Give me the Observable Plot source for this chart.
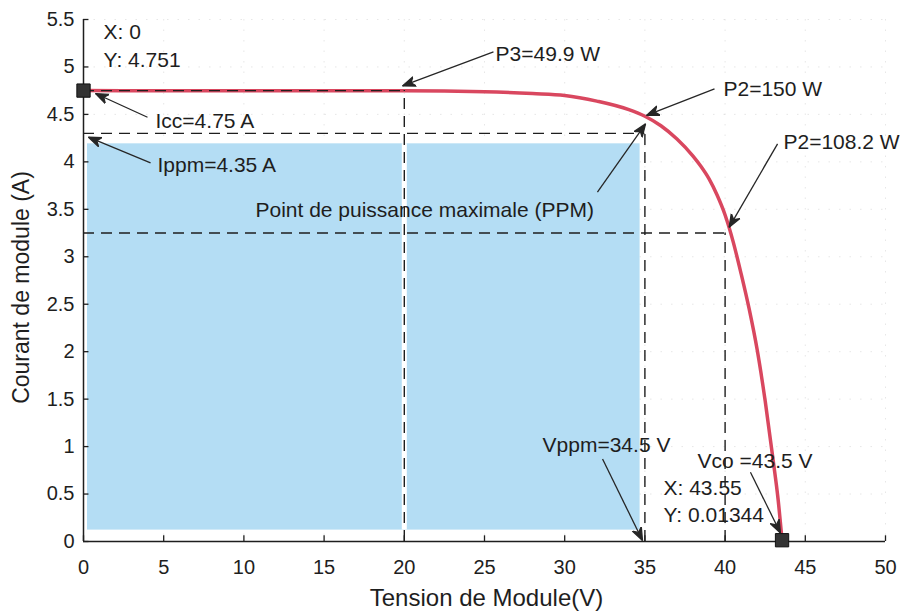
<!DOCTYPE html>
<html>
<head>
<meta charset="utf-8">
<script src="https://cdn.jsdelivr.net/npm/d3@7"></script>
<script src="https://cdn.jsdelivr.net/npm/@observablehq/plot@0.6"></script>
<style>
  html, body { margin: 0; padding: 0; background: #fff; }
</style>
</head>
<body>
<div id="chart"></div>
<script>
// I-V curve of the module
const tension = [0, 5, 10, 15, 20, 25, 28, 30, 32, 34, 35, 36, 37, 38, 38.5, 39, 39.5, 40, 40.5, 41, 41.5, 42, 42.5, 43, 43.3, 43.55];
const courant = [4.751, 4.75, 4.75, 4.75, 4.75, 4.74, 4.72, 4.70, 4.64, 4.55, 4.48, 4.38, 4.24, 4.06, 3.95, 3.82, 3.65, 3.44, 3.16, 2.82, 2.45, 2.02, 1.48, 0.85, 0.45, 0.013];

const xTicks = [0, 5, 10, 15, 20, 25, 30, 35, 40, 45, 50];
const yTicks = [0, 0.5, 1, 1.5, 2, 2.5, 3, 3.5, 4, 4.5, 5, 5.5];

// data tips (markers)
const tipX = [0, 43.55];
const tipY = [4.751, 0.01344];

// guide (dashed) lines
const hLineY = [4.751, 4.3, 3.25];
const hLineX2 = [20, 35, 40.3];
const vLineX = [20, 35, 40];
const vLineY2 = [4.751, 4.3, 3.25];

// maximum power rectangle
const rectV = [0.25, 34.7];
const rectI = [0.12, 4.19];

// annotation labels
const annText = ["X: 0", "Y: 4.751", "Icc=4.75 A", "Ippm=4.35 A", "P3=49.9 W", "P2=150 W", "P2=108.2 W",
  "Point de puissance maximale (PPM)", "Vppm=34.5 V", "Vco =43.5 V", "X: 43.55", "Y: 0.01344"];
const annX = [1.25, 1.25, 4.49, 4.61, 25.69, 39.9, 43.64, 10.72, 28.62, 38.28, 36.16, 36.16];
const annY = [5.37, 5.07, 4.43, 3.96, 5.13, 4.77, 4.21, 3.49, 1.01, 0.85, 0.56, 0.28];

// annotation arrows (tail -> head)
const arrX1 = [3.99, 4.18, 25.56, 39.34, 43.27, 32.04, 32.36, 41.58];
const arrY1 = [4.47, 3.99, 5.16, 4.77, 4.19, 3.68, 0.87, 0.73];
const arrX2 = [0.75, 0.31, 19.89, 35.1, 40.25, 35.04, 34.85, 43.45];
const arrY2 = [4.72, 4.26, 4.80, 4.49, 3.31, 4.40, 0.01, 0.09];

const curve = tension.map((v, i) => ({v, i: courant[i]}));
const tips = tipX.map((x, k) => ({x, y: tipY[k]}));
const hLines = hLineY.map((y, k) => ({y, x1: 0, x2: hLineX2[k]}));
const vLines = vLineX.map((x, k) => ({x, y1: 0, y2: vLineY2[k]}));
const labels = annText.map((t, k) => ({t, x: annX[k], y: annY[k]}));
const arrows = arrX1.map((x1, k) => ({x1, y1: arrY1[k], x2: arrX2[k], y2: arrY2[k]}));

const ink = "#1e1e1e";
const font = "Liberation Sans, Arial, Helvetica, sans-serif";

function arrowHead(color, context) {
  const ns = "http://www.w3.org/2000/svg";
  const doc = (context && context.document) || document;
  const m = doc.createElementNS(ns, "marker");
  m.setAttribute("viewBox", "-13 -6 14 12");
  m.setAttribute("markerWidth", 14);
  m.setAttribute("markerHeight", 12);
  m.setAttribute("markerUnits", "userSpaceOnUse");
  m.setAttribute("orient", "auto");
  m.setAttribute("refX", 0);
  m.setAttribute("refY", 0);
  const p = doc.createElementNS(ns, "path");
  p.setAttribute("d", "M0,0 L-13,-5 L-9,0 L-13,5 Z");
  p.setAttribute("fill", "#262626");
  m.appendChild(p);
  return m;
}

const plot = Plot.plot({
  width: 904,
  height: 613,
  marginLeft: 83,
  marginRight: 19,
  marginTop: 19,
  marginBottom: 72,
  style: {fontFamily: font, color: ink, background: "#fff"},
  x: {domain: [0, 50]},
  y: {domain: [0, 5.5]},
  marks: [
    // faint grid
    Plot.ruleX(xTicks.slice(1), {x: d => d, stroke: "#cfcfcf", strokeOpacity: 0.5, strokeDasharray: "1.5,9"}),
    Plot.ruleY(yTicks.slice(1), {y: d => d, stroke: "#cfcfcf", strokeOpacity: 0.5, strokeDasharray: "1.5,9"}),
    // blue max-power area
    Plot.rect([{}], {x1: rectV[0], x2: rectV[1], y1: rectI[0], y2: rectI[1], fill: "#b4ddf4"}),
    Plot.ruleX([vLineX[0]], {x: d => d, y1: rectI[0], y2: rectI[1], stroke: "#fff", strokeWidth: 5}),
    // I-V curve
    Plot.line(curve, {x: "v", y: "i", stroke: "#d9475f", strokeWidth: 3.5, curve: "monotone-x"}),
    // dashed guides
    Plot.ruleY(hLines, {y: "y", x1: "x1", x2: "x2", stroke: ink, strokeWidth: 1.4, strokeDasharray: "11,7"}),
    Plot.ruleX(vLines, {x: "x", y1: "y1", y2: "y2", stroke: ink, strokeWidth: 1.4, strokeDasharray: "11,7"}),
    // axes lines
    Plot.ruleX([0], {y1: 0, y2: 5.5, stroke: ink, strokeWidth: 1.5}),
    Plot.ruleY([0], {x1: 0, x2: 50, stroke: ink, strokeWidth: 1.5}),
    // inward ticks
    Plot.ruleX(xTicks, {x: d => d, y1: 0, y2: 0.06, stroke: ink, strokeWidth: 1.3}),
    Plot.ruleY(yTicks, {y: d => d, x1: 0, x2: 0.34, stroke: ink, strokeWidth: 1.3}),
    Plot.axisX({ticks: xTicks, tickSize: 0, tickPadding: 18, fontSize: 20, label: null, tickFormat: d => String(d)}),
    Plot.axisY({ticks: yTicks, tickSize: 0, tickPadding: 9, fontSize: 20, label: null, tickFormat: d => String(d)}),
    // axis titles
    Plot.text(["Tension de Module(V)"], {frameAnchor: "bottom", lineAnchor: "middle", textAnchor: "middle", dy: 57, dx: 2, fontSize: 24, fill: ink}),
    Plot.text(["Courant de module (A)"], {frameAnchor: "left", lineAnchor: "middle", textAnchor: "middle", dx: -62, dy: 7, rotate: -90, fontSize: 23, fill: ink}),
    // data tip markers
    Plot.dot(tips, {x: "x", y: "y", symbol: "square", r: 7.5, fill: "#333", stroke: "#111", strokeWidth: 1}),
    // arrows
    Plot.link(arrows, {x1: "x1", y1: "y1", x2: "x2", y2: "y2", stroke: "#262626", strokeWidth: 1.3, markerEnd: arrowHead}),
    // labels
    Plot.text(labels, {x: "x", y: "y", text: "t", textAnchor: "start", lineAnchor: "middle", fontSize: 21, fill: ink})
  ]
});

document.getElementById("chart").appendChild(plot);
</script>
</body>
</html>
